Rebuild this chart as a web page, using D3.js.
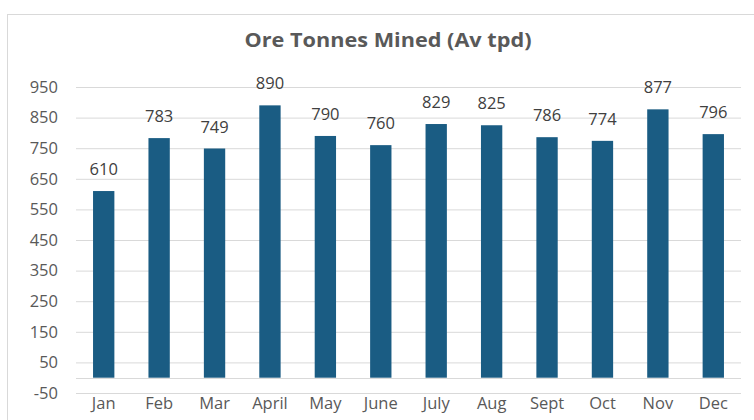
<!DOCTYPE html>
<html>
<head>
<meta charset="utf-8">
<script src="https://cdn.jsdelivr.net/npm/d3@7"></script>
<style>
  html, body { margin: 0; padding: 0; background: #fff; }
  svg { display: block; }
</style>
</head>
<body>
<svg id="chart" width="754" height="420"></svg>
<script>
const months = ["Jan","Feb","Mar","April","May","June","July","Aug","Sept","Oct","Nov","Dec"];
const values = [610, 783, 749, 890, 790, 760, 829, 825, 786, 774, 877, 796];
const yTicks = [-50, 50, 150, 250, 350, 450, 550, 650, 750, 850, 950];
const title = "Ore Tonnes Mined (Av tpd)";

const svg = d3.select("#chart");
const W = 754, H = 420;
const margin = { left: 76, right: 13, top: 87, bottom: 27 };

// chart frame
svg.append("rect")
  .attr("x", 7.5).attr("y", 14.5)
  .attr("width", 800).attr("height", 500)
  .attr("fill", "#fff").attr("stroke", "#d9d9d9").attr("stroke-width", 1);

const x = d3.scaleBand()
  .domain(months)
  .range([margin.left, W - margin.right])
  .paddingInner(0.615)
  .paddingOuter(0.3075);

const y = d3.scaleLinear()
  .domain([-50, 950])
  .range([H - margin.bottom, margin.top]);

const font = "'Open Sans', 'Noto Sans', sans-serif";
const grey = "#595959";

// gridlines
const yAxis = d3.axisLeft(y).tickValues(yTicks).tickFormat(d => String(d))
  .tickSize(-(W - margin.right - margin.left)).tickPadding(18);
const gy = svg.append("g").attr("transform", `translate(${margin.left},0)`).call(yAxis);
gy.select(".domain").remove();
gy.selectAll(".tick line").attr("stroke", "#d9d9d9").attr("stroke-width", 1);
gy.selectAll(".tick text").attr("fill", grey).style("font-family", font).style("font-size", "16.5px");

// zero axis line
svg.append("line")
  .attr("x1", margin.left).attr("x2", W - margin.right)
  .attr("y1", Math.round(y(0)) + 0.5).attr("y2", Math.round(y(0)) + 0.5)
  .attr("stroke", "#d9d9d9").attr("stroke-width", 1);

// bars
svg.append("g").selectAll("rect")
  .data(values)
  .join("rect")
  .attr("x", (d, i) => x(months[i]))
  .attr("width", x.bandwidth())
  .attr("y", d => y(d))
  .attr("height", d => y(0) - y(d))
  .attr("fill", "#1a5c83");

// value labels
svg.append("g").selectAll("text")
  .data(values)
  .join("text")
  .attr("x", (d, i) => x(months[i]) + x.bandwidth() / 2)
  .attr("y", d => y(d) - 16)
  .attr("text-anchor", "middle")
  .attr("fill", "#404040")
  .style("font-family", font)
  .style("font-size", "16.5px")
  .text(d => d);

// x axis labels
const xAxis = d3.axisBottom(x).tickSize(0).tickPadding(0);
const gx = svg.append("g").attr("transform", `translate(0,${H - margin.bottom})`).call(xAxis);
gx.select(".domain").remove();
gx.selectAll(".tick text")
  .attr("y", 0).attr("dy", "15.5px")
  .attr("fill", grey).style("font-family", font).style("font-size", "16.5px");

// title
svg.append("text")
  .attr("x", 388).attr("y", 47)
  .attr("text-anchor", "middle")
  .attr("fill", "#595959")
  .attr("textLength", 287)
  .attr("lengthAdjust", "spacingAndGlyphs")
  .style("font-family", "'Open Sans', 'Noto Sans', sans-serif")
  .style("font-weight", "bold")
  .style("font-size", "19.5px")
  .text(title);
</script>
</body>
</html>
